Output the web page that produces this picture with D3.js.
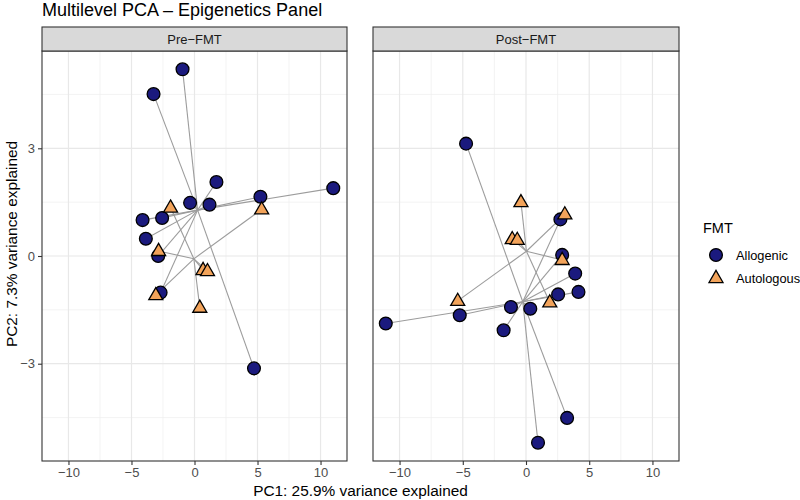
<!DOCTYPE html>
<html><head><meta charset="utf-8">
<script src="https://cdn.jsdelivr.net/npm/d3@7"></script>
<style>body{margin:0;background:#fff}svg{display:block;font-family:"Liberation Sans",Arial,Helvetica,sans-serif}</style>
</head><body><svg id="c" width="800" height="500"></svg>
<script>
const panels = ["Pre\u2212FMT", "Post\u2212FMT"];
const groups = ["Allogenic", "Autologous"];
const xTicks = [-10, -5, 0, 5, 10];
const yTicks = [-3, 0, 3];

const preAllogenicPC1 = [-0.95, -3.25, 1.74, 11.01, 5.23, -0.35, 1.19, -4.12, -2.57, -3.86, -2.88, -2.69, 4.72];
const preAllogenicPC2 = [5.20, 4.51, 2.06, 1.89, 1.65, 1.48, 1.43, 1.00, 1.06, 0.48, 0.00, -1.02, -3.13];
const preAutologousPC1 = [-1.90, 5.33, -2.85, 0.68, 1.03, -3.07, 0.42];
const preAutologousPC2 = [1.35, 1.30, 0.14, -0.39, -0.42, -1.09, -1.44];

const postAllogenicPC1 = [-4.74, 2.72, 2.86, 3.89, 4.15, 2.54, -1.19, 0.34, -5.24, -11.09, -1.77, 3.25, 0.95];
const postAllogenicPC2 = [3.13, 1.02, 0.03, -0.49, -1.00, -1.07, -1.42, -1.47, -1.65, -1.88, -2.07, -4.51, -5.20];
const postAutologousPC1 = [-0.40, 3.07, -1.09, -0.69, 2.86, -5.40, 1.88];
const postAutologousPC2 = [1.50, 1.16, 0.47, 0.45, -0.11, -1.25, -1.29];

const data = [
  {panel: panels[0], sets: [
    {group: groups[0], x: preAllogenicPC1, y: preAllogenicPC2},
    {group: groups[1], x: preAutologousPC1, y: preAutologousPC2}]},
  {panel: panels[1], sets: [
    {group: groups[0], x: postAllogenicPC1, y: postAllogenicPC2},
    {group: groups[1], x: postAutologousPC1, y: postAutologousPC2}]}
];

const fills = {Allogenic: "#1b1a7e", Autologous: "#f2a35a"};
const svg = d3.select("#c");
const font = '"Liberation Sans",Arial,Helvetica,sans-serif';

const plotTop = 51, plotBottom = 461, stripTop = 27;
const panelX = [[42, 347], [373, 679]];
const y = d3.scaleLinear().domain([-5.71, 5.71]).range([plotBottom, plotTop]);

function triPath(cx, cy, s) {
  const h = s * Math.sqrt(3) / 2;
  return `M${cx},${cy - h * 2 / 3}L${cx + s / 2},${cy + h / 3}L${cx - s / 2},${cy + h / 3}Z`;
}

data.forEach((p, i) => {
  const [x0, x1] = panelX[i];
  const x = d3.scaleLinear().domain([-12.1, 12.1]).range([x0, x1]);
  const g = svg.append("g");
  g.append("rect").attr("x", x0).attr("y", plotTop).attr("width", x1 - x0).attr("height", plotBottom - plotTop).attr("fill", "#fff");
  const xMinor = [-7.5, -2.5, 2.5, 7.5], yMinor = [-4.5, -1.5, 1.5, 4.5];
  g.selectAll(null).data(xMinor).join("line")
    .attr("x1", d => x(d)).attr("x2", d => x(d)).attr("y1", plotTop).attr("y2", plotBottom)
    .attr("stroke", "#eeeeee").attr("stroke-width", 0.7);
  g.selectAll(null).data(yMinor).join("line")
    .attr("x1", x0).attr("x2", x1).attr("y1", d => y(d)).attr("y2", d => y(d))
    .attr("stroke", "#eeeeee").attr("stroke-width", 0.7);
  g.selectAll(null).data(xTicks).join("line")
    .attr("x1", d => x(d)).attr("x2", d => x(d)).attr("y1", plotTop).attr("y2", plotBottom)
    .attr("stroke", "#e8e8e8").attr("stroke-width", 1.2);
  g.selectAll(null).data(yTicks).join("line")
    .attr("x1", x0).attr("x2", x1).attr("y1", d => y(d)).attr("y2", d => y(d))
    .attr("stroke", "#e8e8e8").attr("stroke-width", 1.2);

  p.sets.forEach(s => {
    const cx = d3.mean(s.x), cy = d3.mean(s.y);
    g.selectAll(null).data(s.x.map((v, k) => [v, s.y[k]])).join("line")
      .attr("x1", d => x(d[0])).attr("y1", d => y(d[1]))
      .attr("x2", x(cx)).attr("y2", y(cy))
      .attr("stroke", "#9c9c9c").attr("stroke-width", 1.1);
  });
  const alo = p.sets[0], aut = p.sets[1];
  g.selectAll(null).data(alo.x.map((v, k) => [v, alo.y[k]])).join("circle")
    .attr("cx", d => x(d[0])).attr("cy", d => y(d[1])).attr("r", 6.4)
    .attr("fill", fills.Allogenic).attr("stroke", "#000").attr("stroke-width", 1.3);
  g.selectAll(null).data(aut.x.map((v, k) => [v, aut.y[k]])).join("path")
    .attr("d", d => triPath(x(d[0]), y(d[1]) + 0.5, 14))
    .attr("fill", fills.Autologous).attr("stroke", "#000").attr("stroke-width", 1.3);

  g.append("rect").attr("x", x0).attr("y", plotTop).attr("width", x1 - x0).attr("height", plotBottom - plotTop)
    .attr("fill", "none").attr("stroke", "#333").attr("stroke-width", 1.1);
  g.append("rect").attr("x", x0).attr("y", stripTop).attr("width", x1 - x0).attr("height", plotTop - stripTop)
    .attr("fill", "#d9d9d9").attr("stroke", "#333").attr("stroke-width", 1.1);
  g.append("text").attr("x", (x0 + x1) / 2).attr("y", (stripTop + plotTop) / 2 + 4.6)
    .attr("text-anchor", "middle").attr("font-size", 13).attr("fill", "#1a1a1a").text(p.panel);

  const ax = svg.append("g").attr("transform", `translate(0,${plotBottom})`)
    .call(d3.axisBottom(x).tickValues(xTicks).tickSize(4).tickPadding(2.5));
  ax.select(".domain").remove();
  ax.selectAll(".tick line").attr("stroke", "#333").attr("stroke-width", 1.1);
  ax.selectAll(".tick text").attr("fill", "#4d4d4d").attr("font-size", 13).attr("font-family", font);
  if (i === 0) {
    const ay = svg.append("g").attr("transform", `translate(${x0},0)`)
      .call(d3.axisLeft(y).tickValues(yTicks).tickSize(4).tickPadding(3));
    ay.select(".domain").remove();
    ay.selectAll(".tick line").attr("stroke", "#333").attr("stroke-width", 1.1);
    ay.selectAll(".tick text").attr("fill", "#4d4d4d").attr("font-size", 13).attr("font-family", font);
  }
});

svg.append("text").attr("x", 42).attr("y", 16).attr("font-size", 18).attr("fill", "#000")
  .text("Multilevel PCA \u2013 Epigenetics Panel");
svg.append("text").attr("x", 360.5).attr("y", 496).attr("text-anchor", "middle").attr("font-size", 15.4).attr("fill", "#000")
  .text("PC1: 25.9% variance explained");
svg.append("text").attr("transform", "translate(17,244) rotate(-90)").attr("text-anchor", "middle").attr("font-size", 15.4).attr("fill", "#000")
  .text("PC2: 7.3% variance explained");

const lg = svg.append("g");
lg.append("text").attr("x", 703).attr("y", 233).attr("font-size", 14.5).attr("fill", "#000").text("FMT");
lg.append("circle").attr("cx", 716).attr("cy", 255).attr("r", 6.4)
  .attr("fill", fills.Allogenic).attr("stroke", "#000").attr("stroke-width", 1.3);
lg.append("path").attr("d", triPath(716, 278.5, 14))
  .attr("fill", fills.Autologous).attr("stroke", "#000").attr("stroke-width", 1.3);
lg.append("text").attr("x", 736).attr("y", 259.5).attr("font-size", 12.8).attr("fill", "#000").text(groups[0]);
lg.append("text").attr("x", 736).attr("y", 282.5).attr("font-size", 12.8).attr("fill", "#000").text(groups[1]);
</script></body></html>
